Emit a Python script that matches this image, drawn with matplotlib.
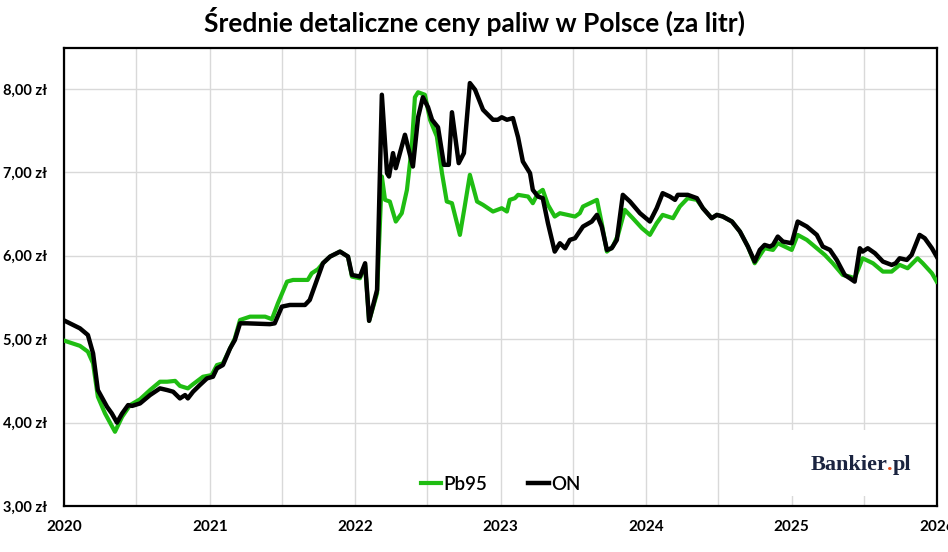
import pandas as pd
import matplotlib.pyplot as plt
import matplotlib.dates as mdates
from matplotlib.patches import Rectangle
from matplotlib.ticker import FuncFormatter

plt.rcParams['font.family'] = ['Lato', 'DejaVu Sans']

# Średnie ceny Pb95 (zł/l)
pb95_dates = ['2020-01-03', '2020-02-10', '2020-03-01', '2020-03-14', '2020-03-26', '2020-04-13',
              '2020-05-08', '2020-05-26', '2020-06-15', '2020-07-10', '2020-08-04', '2020-08-29',
              '2020-09-16', '2020-10-06', '2020-10-18', '2020-11-07', '2020-11-20', '2020-12-15',
              '2021-01-06', '2021-01-19', '2021-02-03', '2021-02-21', '2021-03-05', '2021-03-18',
              '2021-04-12', '2021-05-20', '2021-06-06', '2021-06-21', '2021-07-14', '2021-07-29',
              '2021-09-04', '2021-09-14', '2021-09-30', '2021-10-12', '2021-10-30', '2021-11-24',
              '2021-12-14', '2021-12-24', '2022-01-13', '2022-01-26', '2022-02-05', '2022-02-25',
              '2022-03-09', '2022-03-17', '2022-03-29', '2022-04-13', '2022-04-28', '2022-05-11',
              '2022-05-23', '2022-05-31', '2022-06-08', '2022-06-25', '2022-07-08', '2022-07-25',
              '2022-08-07', '2022-08-19', '2022-09-01', '2022-09-21', '2022-10-03', '2022-10-16',
              '2022-11-03', '2022-11-18', '2022-12-13', '2023-01-04', '2023-01-17', '2023-01-24',
              '2023-02-06', '2023-02-14', '2023-03-11', '2023-03-23', '2023-04-05', '2023-04-17',
              '2023-04-30', '2023-05-17', '2023-05-30', '2023-07-07', '2023-07-19', '2023-07-27',
              '2023-08-31', '2023-09-12', '2023-09-25', '2023-10-10', '2023-10-23', '2023-11-09',
              '2023-11-29', '2023-12-22', '2024-01-11', '2024-01-28', '2024-02-12', '2024-03-09',
              '2024-03-26', '2024-04-15', '2024-05-08', '2024-05-23', '2024-06-14', '2024-06-27',
              '2024-07-12', '2024-08-04', '2024-08-24', '2024-09-13', '2024-09-30', '2024-10-25',
              '2024-11-15', '2024-11-27', '2025-01-01', '2025-01-16', '2025-02-08', '2025-03-05',
              '2025-03-25', '2025-04-14', '2025-05-09', '2025-05-27', '2025-06-08', '2025-06-28',
              '2025-07-24', '2025-08-18', '2025-09-09', '2025-09-29', '2025-10-19', '2025-11-13',
              '2025-11-26', '2025-12-19', '2025-12-31']
pb95_values = [4.98, 4.92, 4.85, 4.71, 4.31, 4.11,
               3.89, 4.07, 4.21, 4.28, 4.39, 4.49,
               4.49, 4.50, 4.44, 4.41, 4.46, 4.55,
               4.57, 4.69, 4.71, 4.89, 5.01, 5.23,
               5.27, 5.27, 5.24, 5.43, 5.69, 5.71,
               5.71, 5.79, 5.84, 5.91, 5.99, 6.05,
               5.99, 5.75, 5.73, 5.89, 5.22, 5.55,
               6.95, 6.67, 6.65, 6.41, 6.51, 6.79,
               7.30, 7.90, 7.96, 7.93, 7.63, 7.43,
               6.99, 6.65, 6.63, 6.25, 6.59, 6.97,
               6.65, 6.61, 6.53, 6.57, 6.53, 6.67,
               6.69, 6.73, 6.71, 6.63, 6.75, 6.79,
               6.61, 6.47, 6.51, 6.47, 6.51, 6.59,
               6.67, 6.39, 6.05, 6.11, 6.25, 6.55,
               6.45, 6.33, 6.25, 6.39, 6.49, 6.45,
               6.59, 6.69, 6.67, 6.57, 6.45, 6.49,
               6.47, 6.41, 6.29, 6.11, 5.91, 6.09,
               6.07, 6.15, 6.07, 6.25, 6.19, 6.09,
               6.01, 5.91, 5.77, 5.75, 5.73, 5.97,
               5.91, 5.81, 5.81, 5.89, 5.85, 5.97,
               5.91, 5.79, 5.69]

# Średnie ceny ON (zł/l)
on_dates = ['2020-01-03', '2020-02-10', '2020-03-01', '2020-03-14', '2020-03-26', '2020-04-18',
            '2020-04-30', '2020-05-13', '2020-05-26', '2020-06-10', '2020-06-20', '2020-07-10',
            '2020-08-04', '2020-08-29', '2020-09-16', '2020-10-01', '2020-10-18', '2020-10-31',
            '2020-11-07', '2020-11-20', '2020-12-07', '2020-12-25', '2021-01-09', '2021-01-19',
            '2021-02-03', '2021-02-21', '2021-03-05', '2021-03-18', '2021-04-04', '2021-06-01',
            '2021-06-13', '2021-07-01', '2021-07-21', '2021-08-28', '2021-09-09', '2021-09-27',
            '2021-10-12', '2021-10-30', '2021-11-24', '2021-12-14', '2021-12-24', '2022-01-13',
            '2022-01-26', '2022-02-05', '2022-02-25', '2022-03-09', '2022-03-22', '2022-03-27',
            '2022-04-06', '2022-04-13', '2022-05-06', '2022-05-26', '2022-06-08', '2022-06-20',
            '2022-07-03', '2022-07-13', '2022-07-28', '2022-08-12', '2022-08-24', '2022-09-01',
            '2022-09-18', '2022-10-01', '2022-10-16', '2022-10-29', '2022-11-18', '2022-12-13',
            '2022-12-25', '2023-01-04', '2023-01-17', '2023-02-01', '2023-02-14', '2023-02-26',
            '2023-03-16', '2023-03-23', '2023-04-05', '2023-04-17', '2023-04-30', '2023-05-17',
            '2023-05-30', '2023-06-12', '2023-06-24', '2023-07-07', '2023-07-27', '2023-08-18',
            '2023-08-31', '2023-09-12', '2023-09-25', '2023-10-07', '2023-10-20', '2023-11-04',
            '2023-11-22', '2023-12-17', '2024-01-11', '2024-01-28', '2024-02-12', '2024-03-01',
            '2024-03-14', '2024-03-21', '2024-04-15', '2024-05-08', '2024-05-23', '2024-06-14',
            '2024-06-27', '2024-07-12', '2024-08-04', '2024-08-24', '2024-09-13', '2024-09-30',
            '2024-10-13', '2024-10-25', '2024-11-07', '2024-11-15', '2024-11-27', '2024-12-10',
            '2025-01-01', '2025-01-16', '2025-02-08', '2025-03-05', '2025-03-20', '2025-04-07',
            '2025-04-24', '2025-05-14', '2025-05-27', '2025-06-08', '2025-06-21', '2025-06-28',
            '2025-07-11', '2025-07-29', '2025-08-18', '2025-09-09', '2025-09-19', '2025-09-29',
            '2025-10-17', '2025-10-29', '2025-11-18', '2025-12-01', '2025-12-19', '2025-12-31']
on_values = [5.22, 5.13, 5.05, 4.83, 4.39, 4.19,
             4.11, 4.00, 4.11, 4.21, 4.20, 4.23,
             4.33, 4.41, 4.39, 4.37, 4.29, 4.33,
             4.29, 4.37, 4.45, 4.53, 4.55, 4.65,
             4.69, 4.89, 4.99, 5.19, 5.19, 5.18,
             5.19, 5.39, 5.41, 5.41, 5.47, 5.71,
             5.91, 5.99, 6.05, 5.99, 5.77, 5.75,
             5.91, 5.22, 5.59, 7.93, 6.99, 6.95,
             7.23, 7.05, 7.45, 7.07, 7.66, 7.90,
             7.78, 7.63, 7.54, 7.09, 7.09, 7.72,
             7.11, 7.23, 8.07, 7.99, 7.75, 7.63,
             7.63, 7.66, 7.63, 7.65, 7.42, 7.13,
             6.99, 6.79, 6.71, 6.69, 6.39, 6.05,
             6.15, 6.09, 6.19, 6.21, 6.35, 6.41,
             6.49, 6.35, 6.07, 6.09, 6.19, 6.73,
             6.65, 6.51, 6.41, 6.57, 6.75, 6.71,
             6.67, 6.73, 6.73, 6.69, 6.57, 6.45,
             6.49, 6.47, 6.41, 6.29, 6.11, 5.93,
             6.07, 6.13, 6.11, 6.13, 6.23, 6.17,
             6.15, 6.41, 6.35, 6.25, 6.11, 6.07,
             5.95, 5.77, 5.73, 5.69, 6.09, 6.05,
             6.09, 6.03, 5.93, 5.89, 5.91, 5.97,
             5.95, 6.01, 6.25, 6.21, 6.09, 5.99]

pb95 = pd.Series(pb95_values, index=pd.to_datetime(pb95_dates))
on = pd.Series(on_values, index=pd.to_datetime(on_dates))

fig = plt.figure(figsize=(9.48, 5.52), dpi=100)
ax = fig.add_axes([0.0675, 0.0833, 0.921, 0.8297])

ax.plot(pb95.index, pb95.values, color='#1fbd12', lw=3.0, label='Pb95', zorder=3,
        solid_joinstyle='round')
ax.plot(on.index, on.values, color='black', lw=3.2, label='ON', zorder=4,
        solid_joinstyle='round')

ax.set_xlim(pd.Timestamp('2020-01-01'), pd.Timestamp('2026-01-01'))
ax.set_ylim(3.0, 8.49)
ax.set_yticks([3, 4, 5, 6, 7, 8])
ax.yaxis.set_major_formatter(FuncFormatter(lambda v, p: f'{v:.2f}'.replace('.', ',') + ' zł'))
ax.xaxis.set_major_locator(mdates.YearLocator())
ax.xaxis.set_minor_locator(mdates.MonthLocator(bymonth=7))
ax.xaxis.set_major_formatter(mdates.DateFormatter('%Y'))

ax.grid(True, which='both', color='#d9d9d9', lw=1.0)
ax.set_axisbelow(True)
ax.tick_params(which='both', length=0)
ax.tick_params(axis='y', pad=12, labelsize=10.5)
ax.tick_params(axis='x', pad=10, labelsize=11)
for lab in ax.get_xticklabels() + ax.get_yticklabels():
    lab.set_fontweight('bold')
for s in ax.spines.values():
    s.set_linewidth(1.6)
    s.set_color('black')

# białe tło pod logo
ax.add_patch(Rectangle((0.82, 0.022), 0.175, 0.145, transform=ax.transAxes,
                       facecolor='white', edgecolor='none', zorder=1))
t1 = ax.text(0.855, 0.078, 'Bankier', transform=ax.transAxes, fontsize=16,
             family='Liberation Serif', fontweight='bold', color='#1b2440', zorder=5)
t2 = ax.annotate('.', xy=(1, 0), xycoords=t1, va='bottom', fontsize=16,
                 family='Liberation Serif', fontweight='bold', color='#e8501e', zorder=5)
ax.annotate('pl', xy=(1, 0), xycoords=t2, va='bottom', fontsize=16,
            family='Liberation Serif', fontweight='bold', color='#1b2440', zorder=5)

leg = ax.legend(loc='lower center', bbox_to_anchor=(0.5, -0.008), ncol=2, frameon=False,
                fontsize=13.5, handlelength=1.1, handletextpad=0.1, columnspacing=2.2)
for t in leg.get_texts():
    t.set_fontweight('semibold')

fig.suptitle('Średnie detaliczne ceny paliw w Polsce (za litr)', y=0.988, fontsize=19,
             fontweight='bold')

fig.savefig('out.png', dpi=100)
